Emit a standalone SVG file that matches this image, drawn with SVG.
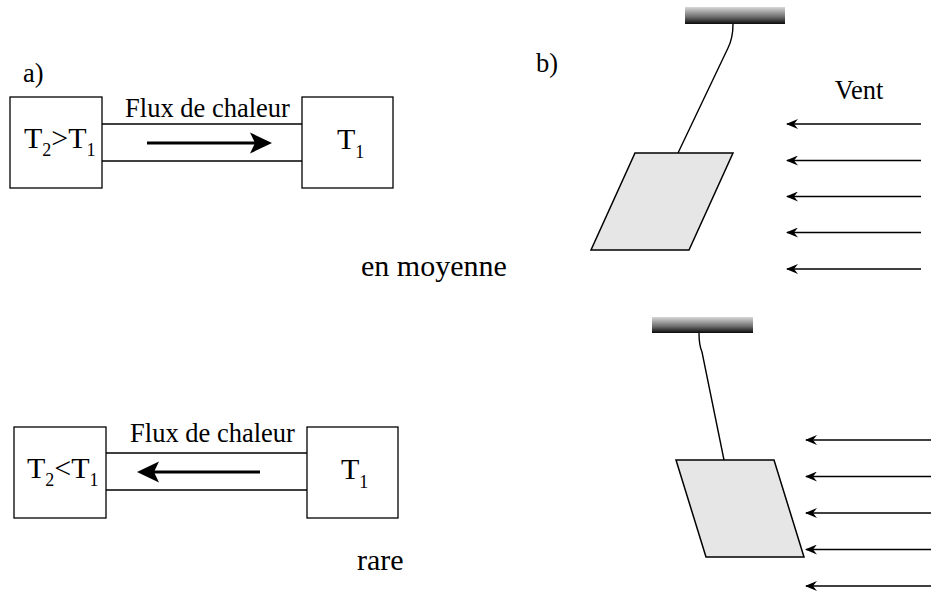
<svg xmlns="http://www.w3.org/2000/svg" width="931" height="595" viewBox="0 0 931 595">
<style>
.box{fill:#fff;stroke:#000;stroke-width:1.3}
.ch{stroke:#000;stroke-width:1.3;fill:none}
text{font-family:'Liberation Serif','DejaVu Serif',serif;fill:#000}
.big{font-size:30px}
.sub{font-size:18px}
.lbl{font-size:26.5px}
.cap{font-size:30px}
.flow{stroke:#000;stroke-width:3;fill:none}
.wind{stroke:#000;stroke-width:1.4;fill:none;marker-start:url(#wh)}
.plate{fill:#e6e6e7;stroke:#000;stroke-width:1.5}
.string{stroke:#000;stroke-width:1.4;fill:none}
</style>
<defs>
<linearGradient id="bar" x1="0" y1="0" x2="0" y2="1">
<stop offset="0" stop-color="#d8d8d8"/>
<stop offset="0.6" stop-color="#6a6a6a"/>
<stop offset="1" stop-color="#0a0a0a"/>
</linearGradient>
<marker id="wh" viewBox="0 0 12 10" refX="1" refY="5" markerWidth="12" markerHeight="10" markerUnits="userSpaceOnUse" orient="auto">
<path d="M0,5 L12,0 L8,5 L12,10 Z" fill="#000"/>
</marker>
</defs>

<text class="lbl" x="23" y="82" font-family="Liberation Serif, serif">a)</text>
<text class="lbl" x="536" y="72" font-family="Liberation Serif, serif">b)</text>

<g id="top-left-box">
<rect class="box" x="10" y="97" width="92" height="91"/>
<text class="big" x="24" y="148" font-family="Liberation Serif, serif">T<tspan class="sub" dy="8">2</tspan><tspan dy="-8">&gt;T</tspan><tspan class="sub" dy="8">1</tspan></text>
</g>
<g id="top-right-box">
<rect class="box" x="302" y="97" width="91" height="91"/>
<text class="big" x="337" y="149" font-family="Liberation Serif, serif">T<tspan class="sub" dy="9">1</tspan></text>
</g>
<g id="top-channel">
<line class="ch" x1="102" y1="124" x2="302" y2="124"/>
<line class="ch" x1="102" y1="161" x2="302" y2="161"/>
<text class="lbl" x="207.5" y="117" text-anchor="middle" font-family="Liberation Serif, serif">Flux de chaleur</text>
<line class="flow" x1="147" y1="143" x2="256" y2="143"/>
<path d="M272,143 L250,132.5 L255,143 L250,153.5 Z" fill="#000"/>
</g>

<text class="cap" x="361" y="276" font-family="Liberation Serif, serif">en moyenne</text>

<g id="bottom-left-box">
<rect class="box" x="14" y="427" width="92" height="91"/>
<text class="big" x="27" y="478" font-family="Liberation Serif, serif">T<tspan class="sub" dy="8">2</tspan><tspan dy="-8">&lt;T</tspan><tspan class="sub" dy="8">1</tspan></text>
</g>
<g id="bottom-right-box">
<rect class="box" x="307" y="427" width="91" height="91"/>
<text class="big" x="341" y="479" font-family="Liberation Serif, serif">T<tspan class="sub" dy="9">1</tspan></text>
</g>
<g id="bottom-channel">
<line class="ch" x1="106" y1="453" x2="307" y2="453"/>
<line class="ch" x1="106" y1="490" x2="307" y2="490"/>
<text class="lbl" x="212.5" y="442" text-anchor="middle" font-family="Liberation Serif, serif">Flux de chaleur</text>
<line class="flow" x1="260" y1="472" x2="152" y2="472"/>
<path d="M137,472 L159,461.5 L154,472 L159,482.5 Z" fill="#000"/>
</g>

<text class="cap" x="357" y="570" font-family="Liberation Serif, serif">rare</text>

<g id="pendulum-top">
<rect x="685" y="7" width="100" height="17" fill="url(#bar)"/>
<path class="string" d="M733,24 Q733,38 728,48 L678,153"/>
<polygon class="plate" points="635,153 733,153 689,250 591,250"/>
</g>
<text class="lbl" x="859" y="99" text-anchor="middle" font-family="Liberation Serif, serif">Vent</text>
<g id="wind-top">
<line class="wind" x1="787" y1="124" x2="921" y2="124"/>
<line class="wind" x1="787" y1="160.5" x2="921" y2="160.5"/>
<line class="wind" x1="787" y1="196.5" x2="921" y2="196.5"/>
<line class="wind" x1="787" y1="232.5" x2="921" y2="232.5"/>
<line class="wind" x1="787" y1="269" x2="921" y2="269"/>
</g>

<g id="pendulum-bottom">
<rect x="652" y="317" width="101" height="16" fill="url(#bar)"/>
<path class="string" d="M699,333 Q699,345 702,352 L724,460"/>
<polygon class="plate" points="676,460 774,460 804,557 706,557"/>
</g>
<g id="wind-bottom">
<line class="wind" x1="806" y1="440" x2="931" y2="440"/>
<line class="wind" x1="806" y1="476.5" x2="931" y2="476.5"/>
<line class="wind" x1="806" y1="513" x2="931" y2="513"/>
<line class="wind" x1="806" y1="549.5" x2="931" y2="549.5"/>
<line class="wind" x1="806" y1="586" x2="931" y2="586"/>
</g>
</svg>
